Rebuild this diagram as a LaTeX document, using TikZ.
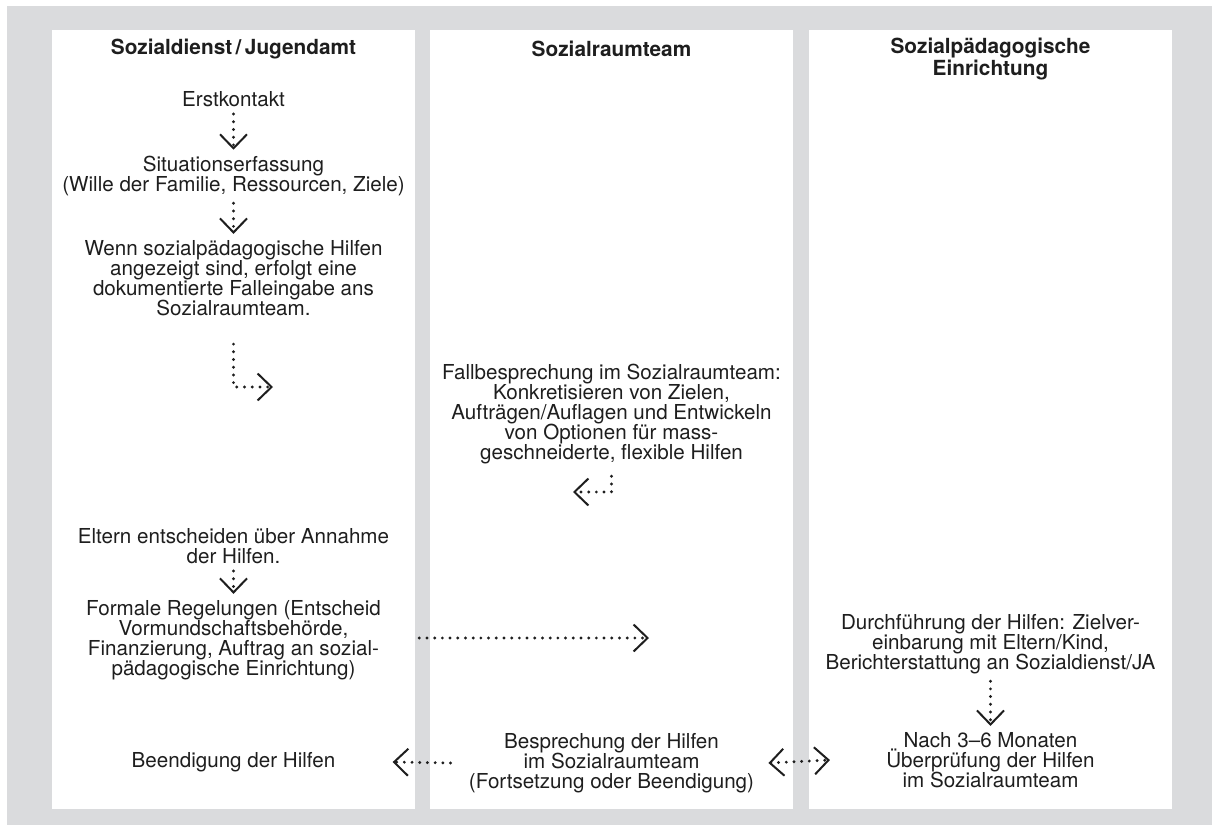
\documentclass[tikz,border=0pt]{standalone}
\usepackage{fontspec}
\setmainfont{TeX Gyre Heros}
\usetikzlibrary{arrows.meta}

\definecolor{bggray}{RGB}{218,219,221}
\definecolor{ink}{RGB}{30,30,30}

\begin{document}
\begin{tikzpicture}[
  x=0.5pt, y=-0.5pt,
  font=\fontsize{10.3}{10}\selectfont,
  txt/.style   = {align=center, inner sep=0pt, text=ink},
  head/.style  = {txt, font=\fontsize{10.4}{10}\selectfont\bfseries},
  panel/.style = {fill=white, draw=none},
  tipbarb/.tip = {Straight Barb[length=7pt, width=13.5pt, line width=1pt]},
  flow/.style  = {draw=ink, line width=1.6pt, line cap=round,
                  dash pattern=on 0pt off 3.85pt, -tipbarb},
  flowboth/.style = {flow, tipbarb-tipbarb}
]

% frame and columns
\useasboundingbox (0,0) rectangle (1212,825);
\fill[bggray] (7,6) rectangle (1212,825);
\fill[panel] (52,30)  rectangle (415,809);
\fill[panel] (430,30) rectangle (793,809);
\fill[panel] (809,30) rectangle (1172,809);

% column heads
\node[head] (h1) at (233.5,49) {Sozialdienst\,/\,Jugendamt};
\node[head] (h2) at (611.5,49) {Sozialraumteam};
\node[head] (h3) at (990.5,59) {Sozialpädagogische\\Einrichtung};

% Sozialdienst / Jugendamt
\node[txt] (erst)   at (233.5,99) {Erstkontakt};
\node[txt] (sit)    at (233.5,176) {Situationserfassung\\(Wille der Familie, Ressourcen, Ziele)};
\node[txt] (wenn)   at (233.5,278) {Wenn sozialpädagogische Hilfen\\angezeigt sind, erfolgt eine\\dokumentierte Falleingabe ans\\Sozialraumteam.};
\node[txt] (eltern) at (233.5,546) {Eltern entscheiden über Annahme\\der Hilfen.};
\node[txt] (form)   at (233.5,640) {Formale Regelungen (Entscheid\\Vormundschaftsbehörde,\\Finanzierung, Auftrag an sozial-\\pädagogische Einrichtung)};
\node[txt] (beend)  at (233.5,762) {Beendigung der Hilfen};

% Sozialraumteam
\node[txt] (fall) at (611.5,414) {Fallbesprechung im Sozialraumteam:\\Konkretisieren von Zielen,\\Aufträgen/Auflagen und Entwickeln\\von Optionen für mass-\\geschneiderte, flexible Hilfen};
\node[txt] (besp) at (611.5,763) {Besprechung der Hilfen\\im Sozialraumteam\\(Fortsetzung oder Beendigung)};

% Sozialpaedagogische Einrichtung
\node[txt] (durch) at (990.5,644) {Durchführung der Hilfen: Zielver-\\einbarung mit Eltern/Kind,\\Berichterstattung an Sozialdienst/JA};
\node[txt] (nach)  at (990.5,760) {Nach 3–6 Monaten\\Überprüfung der Hilfen\\im Sozialraumteam};

% free ends
\coordinate (toteam)   at (273,387);
\coordinate (toeltern) at (573,492);
\coordinate (toeinr)   at (649,638);

% connectors
\draw[flow, shorten <=3.5pt, shorten >=3pt] (erst) -- (sit);
\draw[flow, shorten <=3.5pt, shorten >=3pt] (sit) -- (wenn);
\draw[flow] ([yshift=-14pt]wenn.south) |- (toteam);
\draw[flow] ([yshift=-6pt]fall.south) |- (toeltern);
\draw[flow, shorten <=3.5pt, shorten >=3pt] (eltern) -- (form);
\draw[flow] (form.east |- toeinr) ++(19pt,0) -- (toeinr);
\draw[flow] ([xshift=-9pt]besp.west) -- ([xshift=28.5pt]beend.east);
\draw[flowboth] ([xshift=7pt]besp.east) -- ([xshift=-28pt]nach.west);
\draw[flow, shorten <=3.5pt, shorten >=3pt] (durch) -- (nach);

\end{tikzpicture}
\end{document}
